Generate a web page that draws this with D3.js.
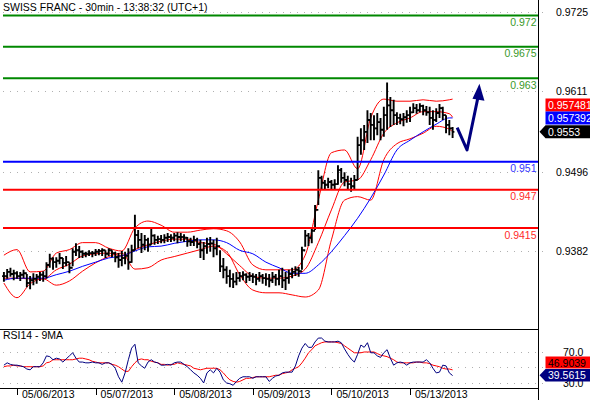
<!DOCTYPE html>
<html>
<head>
<meta charset="utf-8">
<script src="https://cdn.jsdelivr.net/npm/d3@7"></script>
<style>
  body { margin: 0; background: #fff; }
  svg { display: block; font-family: "Liberation Sans", Arial, sans-serif; }
</style>
</head>
<body>
<svg id="chart" width="590" height="400"></svg>
<script>
// 30min bars of USD/CHF
const highs = [0.9352,0.9356,0.9358,0.9355,0.9353,0.9352,0.9355,0.9349,0.9346,0.9350,
  0.9349,0.9352,0.9353,0.9366,0.9378,0.9373,0.9373,0.9379,0.9372,0.9375,
  0.9366,0.9386,0.9393,0.9389,0.9383,0.9381,0.9383,0.9382,0.9385,0.9385,
  0.9386,0.9383,0.9386,0.9383,0.9381,0.9379,0.9382,0.9381,0.9386,0.9391,
  0.9434,0.9412,0.9408,0.9405,0.9401,0.9415,0.9406,0.9404,0.9405,0.9406,
  0.9408,0.9406,0.9408,0.9409,0.9408,0.9406,0.9402,0.9401,0.9404,0.9401,
  0.9398,0.9395,0.9401,0.9402,0.9398,0.9401,0.9383,0.9372,0.9360,0.9355,
  0.9350,0.9352,0.9352,0.9353,0.9350,0.9352,0.9350,0.9349,0.9352,0.9349,
  0.9350,0.9349,0.9352,0.9349,0.9355,0.9358,0.9352,0.9355,0.9358,0.9360,
  0.9359,0.9388,0.9412,0.9408,0.9415,0.9448,0.9498,0.9490,0.9484,0.9487,
  0.9484,0.9485,0.9505,0.9501,0.9495,0.9490,0.9487,0.9491,0.9546,0.9558,
  0.9563,0.9584,0.9580,0.9577,0.9580,0.9573,0.9589,0.9624,0.9603,0.9599,
  0.9581,0.9579,0.9580,0.9584,0.9589,0.9594,0.9593,0.9594,0.9592,0.9590,
  0.9589,0.9584,0.9587,0.9593,0.9589,0.9577,0.9570,0.9560];
const lows = [0.9338,0.9342,0.9345,0.9340,0.9342,0.9339,0.9343,0.9330,0.9327,0.9333,
  0.9335,0.9339,0.9338,0.9342,0.9358,0.9355,0.9358,0.9363,0.9356,0.9360,
  0.9350,0.9360,0.9375,0.9372,0.9372,0.9373,0.9375,0.9373,0.9375,0.9376,
  0.9375,0.9372,0.9375,0.9373,0.9366,0.9358,0.9360,0.9363,0.9355,0.9365,
  0.9383,0.9386,0.9379,0.9383,0.9381,0.9391,0.9391,0.9392,0.9393,0.9393,
  0.9395,0.9395,0.9396,0.9393,0.9396,0.9395,0.9388,0.9389,0.9389,0.9386,
  0.9372,0.9369,0.9378,0.9381,0.9373,0.9376,0.9352,0.9343,0.9335,0.9330,
  0.9329,0.9333,0.9338,0.9340,0.9336,0.9339,0.9336,0.9333,0.9338,0.9335,
  0.9332,0.9330,0.9336,0.9332,0.9333,0.9329,0.9326,0.9335,0.9343,0.9346,
  0.9345,0.9355,0.9388,0.9389,0.9393,0.9412,0.9448,0.9471,0.9470,0.9472,
  0.9471,0.9470,0.9477,0.9480,0.9475,0.9470,0.9467,0.9471,0.9484,0.9520,
  0.9527,0.9537,0.9541,0.9541,0.9548,0.9541,0.9546,0.9556,0.9560,0.9563,
  0.9563,0.9564,0.9561,0.9566,0.9567,0.9580,0.9579,0.9581,0.9577,0.9576,
  0.9563,0.9556,0.9567,0.9573,0.9570,0.9551,0.9548,0.9544];
const closes = [0.9346,0.9352,0.9349,0.9350,0.9346,0.9348,0.9350,0.9336,0.9340,0.9342,
  0.9345,0.9348,0.9346,0.9362,0.9371,0.9366,0.9368,0.9372,0.9365,0.9366,
  0.9358,0.9381,0.9383,0.9381,0.9378,0.9378,0.9379,0.9379,0.9381,0.9382,
  0.9383,0.9378,0.9383,0.9379,0.9373,0.9369,0.9372,0.9375,0.9366,0.9383,
  0.9405,0.9398,0.9391,0.9398,0.9391,0.9404,0.9398,0.9399,0.9398,0.9401,
  0.9402,0.9401,0.9404,0.9402,0.9402,0.9401,0.9396,0.9395,0.9398,0.9392,
  0.9383,0.9389,0.9392,0.9393,0.9386,0.9389,0.9360,0.9355,0.9346,0.9342,
  0.9338,0.9343,0.9346,0.9348,0.9345,0.9346,0.9345,0.9342,0.9346,0.9343,
  0.9342,0.9340,0.9345,0.9342,0.9346,0.9340,0.9343,0.9349,0.9352,0.9355,
  0.9353,0.9383,0.9404,0.9401,0.9411,0.9441,0.9487,0.9480,0.9477,0.9481,
  0.9477,0.9478,0.9498,0.9487,0.9484,0.9478,0.9475,0.9484,0.9534,0.9541,
  0.9553,0.9570,0.9563,0.9558,0.9567,0.9556,0.9577,0.9591,0.9584,0.9577,
  0.9573,0.9571,0.9574,0.9577,0.9581,0.9587,0.9584,0.9590,0.9584,0.9581,
  0.9573,0.9570,0.9580,0.9587,0.9577,0.9563,0.9558,0.9553];

// overlays (Bollinger upper / middle / lower in red, long MA in blue), read every 4 bars
const overlayIdx = [0,4,8,12,16,20,24,28,32,36,40,44,48,52,56,60,64,68,72,76,80,84,88,92,96,100,104,108,112,116,120,124,128,132,136,137];
const maBlue = [0.9340,0.9343,0.9343,0.9343,0.9348,0.9353,0.9360,0.9366,0.9372,0.9375,0.9382,0.9388,0.9389,0.9393,0.9396,0.9398,0.9398,0.9394,0.9383,0.9378,0.9366,0.9358,0.9350,0.9350,0.9362,0.9381,0.9404,0.9429,0.9458,0.9491,0.9527,0.9541,0.9553,0.9564,0.9573,0.9573];
const bandUpper = [0.9376,0.9384,0.9352,0.9353,0.9379,0.9384,0.9394,0.9394,0.9386,0.9382,0.9415,0.9425,0.9419,0.9409,0.9409,0.9412,0.9414,0.9411,0.9395,0.9362,0.9355,0.9355,0.9355,0.9376,0.9455,0.9523,0.9527,0.9500,0.9573,0.9600,0.9597,0.9597,0.9599,0.9597,0.9599,0.9600];
const bandMid = [0.9343,0.9343,0.9342,0.9342,0.9355,0.9363,0.9375,0.9378,0.9379,0.9375,0.9384,0.9391,0.9396,0.9399,0.9399,0.9394,0.9392,0.9378,0.9361,0.9346,0.9343,0.9343,0.9346,0.9356,0.9394,0.9441,0.9481,0.9484,0.9513,0.9551,0.9566,0.9573,0.9582,0.9582,0.9579,0.9574];
const bandLower = [0.9336,0.9315,0.9335,0.9342,0.9333,0.9339,0.9353,0.9365,0.9374,0.9379,0.9356,0.9358,0.9369,0.9374,0.9379,0.9384,0.9389,0.9381,0.9348,0.9326,0.9322,0.9322,0.9319,0.9316,0.9326,0.9398,0.9455,0.9460,0.9455,0.9513,0.9536,0.9543,0.9551,0.9561,0.9557,0.9553];

// RSI14 and its 9MA, one value per bar
const rsi = [53,56,54,53,53,52,51,48,47,51,51,51,56,65,64,60,62,61,57,61,
  65,69,62,57,57,56,56,57,56,56,54,56,56,54,49,38,31,43,60,75,
  80,56,52,49,57,60,57,56,53,53,54,53,56,57,57,54,51,47,43,40,
  36,30,43,47,43,49,44,34,30,29,27,32,36,38,38,38,36,38,38,38,
  38,32,36,39,40,43,44,44,44,52,65,75,81,76,76,83,88,88,84,83,
  83,83,84,82,74,67,61,57,67,79,76,82,69,69,65,63,69,73,62,53,
  56,57,56,53,56,57,57,57,57,60,56,49,43,44,53,52,43,39.5615];
const rsiMa = [51,52,52,53,52,52,51,51,51,51,51,51,52,56,57,60,60,60,60,60,
  60,60,61,62,62,61,60,58,57,56,56,56,56,54,53,51,48,45,45,51,
  56,60,61,60,60,58,57,56,54,54,53,54,54,56,55,54,53,52,49,48,
  47,48,49,49,49,49,47,43,38,34,32,31,32,34,36,36,37,38,38,38,
  38,38,39,40,40,42,43,44,47,49,51,56,62,69,73,78,80,82,83,83,
  83,83,82,81,78,75,72,69,69,69,70,70,70,70,68,66,65,64,62,60,
  57,56,56,56,56,56,57,57,56,56,55,53,52,51,49,48,48,46.9039];

const dateIdx = [4, 28, 52, 76, 100, 124];
const dateLabels = ["05/06/2013", "05/07/2013", "05/08/2013", "05/09/2013", "05/10/2013", "05/13/2013"];
const priceTicks = [0.9725, 0.9611, 0.9496, 0.9382];
const rsiGrid = [70, 50, 30];
const rsiLabels = [70, 30];   // 50.0 sits under the value boxes

const levels = [
  {value: 0.972, label: "0.972", color: "green"},
  {value: 0.9675, label: "0.9675", color: "green"},
  {value: 0.963, label: "0.963", color: "green"},
  {value: 0.951, label: "0.951", color: "blue"},
  {value: 0.947, label: "0.947", color: "red"},
  {value: 0.9415, label: "0.9415", color: "red"}
];
const levelColors = {green: ["#008800", "#3a9a2a"], blue: ["#0000ff", "#3333ff"], red: ["#ff0000", "#ff2a2a"]};

// hand drawn forecast arrow
const forecastIdx = [138.4, 141.4, 145.2];
const forecastPrice = [0.9559, 0.9527, 0.9619];

const upperBox = {value: "0.957481", color: "#ff0000"};
const lowerBox = {value: "0.957392", color: "#0000ff"};
const lastBox = "0.9553";

const W = 590, H = 400, axisX = 538.5;
const svg = d3.select("#chart");
svg.append("rect").attr("width", W).attr("height", H).attr("fill", "#fff");

const x = d3.scaleLinear().domain([0, closes.length - 1]).range([3.9, 452.6]);
const y = d3.scaleLinear().domain([0.9382, 0.9725]).range([251, 12]);
const yr = d3.scaleLinear().domain([23.5, 99.7]).range([388, 329]);

svg.append("clipPath").attr("id", "cp").append("rect")
  .attr("x", 0).attr("y", 0).attr("width", axisX).attr("height", 302);

// gridlines
svg.append("g").selectAll("line").data(priceTicks).join("line")
  .attr("x1", 3).attr("x2", axisX + 6)
  .attr("y1", d => Math.round(y(d)) + 0.5).attr("y2", d => Math.round(y(d)) + 0.5)
  .attr("stroke", "#b0b0b0").attr("stroke-dasharray", "1,6");

svg.append("g").selectAll("text").data(priceTicks).join("text")
  .attr("x", 556).attr("y", d => y(d) + 4)
  .attr("font-size", 10.5).attr("fill", "#000")
  .text(d => d.toFixed(4));

const plot = svg.append("g").attr("clip-path", "url(#cp)");

// level lines
const lv = svg.append("g");
lv.selectAll("line").data(levels).join("line")
  .attr("x1", 3).attr("x2", axisX)
  .attr("y1", d => y(d.value)).attr("y2", d => y(d.value))
  .attr("stroke", d => levelColors[d.color][0]).attr("stroke-width", 2);

// bands and moving average
const line = (vals) => d3.line()
  .x((d, i) => x(overlayIdx[i]))
  .y(d => y(d))
  .curve(d3.curveMonotoneX)(vals);

[bandUpper, bandMid, bandLower].forEach(b =>
  plot.append("path").attr("d", line(b)).attr("fill", "none").attr("stroke", "#ff0000"));
plot.append("path").attr("d", line(maBlue)).attr("fill", "none").attr("stroke", "#0000ff");

// OHLC bars
const bars = plot.append("g").attr("stroke", "#000").attr("stroke-width", 1.9);
bars.selectAll("path").data(closes).join("path")
  .attr("d", (c, i) => {
    const o = i > 0 ? closes[i - 1] : c;
    const xi = x(i);
    return `M${xi},${y(highs[i])}V${y(lows[i])}M${xi - 1.8},${y(o)}H${xi}M${xi},${y(c)}H${xi + 1.8}`;
  });

lv.selectAll("text").data(levels).join("text")
  .attr("x", axisX - 2).attr("y", d => y(d.value) + 10.5)
  .attr("text-anchor", "end").attr("font-size", 10.5)
  .attr("fill", d => levelColors[d.color][1])
  .text(d => d.label);

// forecast arrow
const fpts = forecastIdx.map((d, i) => [x(d), y(forecastPrice[i])]);
svg.append("path").attr("d", d3.line()(fpts.slice(0, 2).concat([[fpts[2][0] - 1.2, fpts[2][1] + 10]])))
  .attr("fill", "none").attr("stroke", "#000080").attr("stroke-width", 3).attr("stroke-linejoin", "round");
{
  const [tx, ty] = fpts[2];
  svg.append("path").attr("d", `M${tx},${ty - 2}L${tx + 5},${ty + 15}L${tx - 7},${ty + 13}Z`).attr("fill", "#000080");
}

// title
svg.append("text").attr("x", 3).attr("y", 11).attr("font-size", 10.5)
  .text("SWISS FRANC - 30min - 13:38:32 (UTC+1)");

// axis frame
svg.append("line").attr("x1", axisX).attr("x2", axisX).attr("y1", 0).attr("y2", H).attr("stroke", "#000");
svg.append("line").attr("x1", 0).attr("x2", axisX).attr("y1", 329.5).attr("y2", 329.5).attr("stroke", "#000");
svg.append("line").attr("x1", 0).attr("x2", axisX).attr("y1", 388.5).attr("y2", 388.5).attr("stroke", "#000");

// value boxes on the axis
function valueBox(top, h, text, fill, txtColor, arrow) {
  const d = arrow
    ? `M${axisX + 1},${top + h / 2}L${axisX + 7},${top}H${W}V${top + h}H${axisX + 7}Z`
    : `M${axisX + 7},${top}H${W}V${top + h}H${axisX + 7}Z`;
  svg.append("path").attr("d", d).attr("fill", fill);
  svg.append("text").attr("x", 548).attr("y", top + h / 2 + 4).attr("font-size", 10.5)
    .attr("fill", txtColor).text(text);
}
valueBox(98.5, 13, upperBox.value, upperBox.color, "#fff", false);
valueBox(111.5, 13, lowerBox.value, lowerBox.color, "#fff", false);
valueBox(y(+lastBox) - 6.5, 13, lastBox, "#000", "#fff", true);

// RSI panel
svg.append("text").attr("x", 3).attr("y", 339).attr("font-size", 10.5).text("RSI14 - 9MA");
svg.append("g").selectAll("line").data(rsiGrid).join("line")
  .attr("x1", 3).attr("x2", axisX + 6)
  .attr("y1", d => Math.round(yr(d)) + 0.5).attr("y2", d => Math.round(yr(d)) + 0.5)
  .attr("stroke", "#b0b0b0").attr("stroke-dasharray", "1,6");
svg.append("g").selectAll("text").data(rsiLabels).join("text")
  .attr("x", 563).attr("y", d => yr(d) + 4).attr("font-size", 10.5)
  .text(d => d.toFixed(1));

const rline = d3.line().x((d, i) => x(i)).y(d => yr(d));
svg.append("path").attr("d", rline(rsiMa)).attr("fill", "none").attr("stroke", "#ff0000");
svg.append("path").attr("d", rline(rsi)).attr("fill", "none").attr("stroke", "#000080");

valueBox(356.5, 12, String(rsiMa[rsiMa.length - 1]), "#ff0000", "#000", false);
valueBox(369, 12.5, String(rsi[rsi.length - 1]), "#000080", "#fff", true);

// date axis
const dates = svg.append("g");
dates.selectAll("line").data(dateIdx).join("line")
  .attr("x1", d => Math.round(x(d)) + 0.5).attr("x2", d => Math.round(x(d)) + 0.5)
  .attr("y1", 389).attr("y2", 395).attr("stroke", "#000");
dates.selectAll("text").data(dateIdx).join("text")
  .attr("x", d => x(d) + 5).attr("y", 398).attr("font-size", 10.5)
  .text((d, i) => dateLabels[i]);
</script>
</body>
</html>
